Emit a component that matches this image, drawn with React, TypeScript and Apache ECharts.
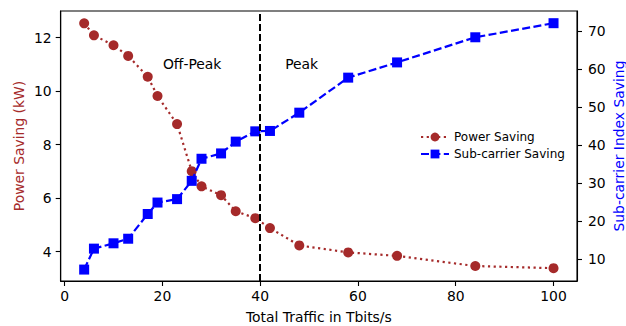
import React, { useEffect, useRef } from "react";
import * as echarts from "echarts";

const traffic = [4, 6, 10, 13, 17, 19, 23, 26, 28, 32, 35, 39, 42, 48, 58, 68, 84, 100];
const powerSaving = [12.54, 12.09, 11.72, 11.32, 10.54, 9.82, 8.77, 7.01, 6.44, 6.11, 5.51, 5.25, 4.88, 4.23, 3.97, 3.84, 3.46, 3.38];
const subcarrierSaving = [7.3, 12.8, 14.2, 15.4, 21.9, 24.9, 25.8, 30.6, 36.4, 37.8, 40.9, 43.6, 43.7, 48.5, 57.7, 61.7, 68.3, 72.0];
const xTicks = [0, 20, 40, 60, 80, 100];
const leftTicks = [4, 6, 8, 10, 12];
const rightTicks = [10, 20, 30, 40, 50, 60, 70];
const peakBoundary = 40;
const annotations = [
  { name: "Off-Peak", x: 20, y: 11.03 },
  { name: "Peak", x: 45, y: 11.03 },
];

const FONT = "DejaVu Sans";
const BROWN = "#a52a2a";
const BLUE = "#0000ff";

export default function App() {
  const ref = useRef<HTMLDivElement>(null);
  useEffect(() => {
    if (!ref.current) return;
    const chart = echarts.init(ref.current, null, { renderer: "svg" });
    const axisCommon = {
      axisLine: { show: true, onZero: false, lineStyle: { color: "#000", width: 1.1 } },
      axisTick: { show: true, inside: false, length: 5, lineStyle: { color: "#000", width: 1.1 } },
      splitLine: { show: false },
      nameMoveOverlap: false,
    };
    chart.setOption({
      animation: false,
      textStyle: { fontFamily: FONT },
      grid: {
        left: 60.7,
        right: 49,
        top: 11,
        bottom: 45,
        show: true,
        borderColor: "#000",
        borderWidth: 1.1,
        outerBoundsMode: "none",
        containLabel: false,
      },
      legend: {
        left: 415,
        top: 126,
        orient: "vertical",
        itemWidth: 28,
        itemHeight: 11,
        itemGap: 5,
        textStyle: { fontFamily: FONT, fontSize: 12, color: "#000" },
        data: ["Power Saving", "Sub-carrier Saving"],
      },
      xAxis: {
        type: "value",
        min: -0.8,
        max: 104.8,
        name: "Total Traffic in Tbits/s",
        nameLocation: "middle",
        nameGap: 29,
        nameTextStyle: { fontFamily: FONT, fontSize: 13.9, color: "#000" },
        ...axisCommon,
        axisTick: { ...axisCommon.axisTick, customValues: xTicks },
        axisLabel: { customValues: xTicks, fontFamily: FONT, fontSize: 13.9, color: "#000", margin: 8 },
      },
      yAxis: [
        {
          type: "value",
          position: "left",
          min: 2.9,
          max: 13.0,
          name: "Power Saving (kW)",
          nameLocation: "middle",
          nameGap: 35,
          nameRotate: 90,
          nameTextStyle: { fontFamily: FONT, fontSize: 13.9, color: BROWN },
          ...axisCommon,
          axisTick: { ...axisCommon.axisTick, customValues: leftTicks },
          axisLabel: { customValues: leftTicks, fontFamily: FONT, fontSize: 13.9, color: "#000", margin: 9 },
        },
        {
          type: "value",
          position: "right",
          min: 4.3,
          max: 75.2,
          name: "Sub-carrier Index Saving",
          nameLocation: "middle",
          nameGap: 35,
          nameRotate: 90,
          nameTextStyle: { fontFamily: FONT, fontSize: 13.9, color: BLUE },
          ...axisCommon,
          axisTick: { ...axisCommon.axisTick, customValues: rightTicks },
          axisLabel: { customValues: rightTicks, fontFamily: FONT, fontSize: 13.9, color: "#000", margin: 11 },
        },
      ],
      series: [
        {
          name: "Power Saving",
          type: "line",
          yAxisIndex: 0,
          data: traffic.map((x, i) => [x, powerSaving[i]]),
          symbol: "circle",
          symbolSize: 10,
          itemStyle: { color: BROWN },
          lineStyle: { color: BROWN, width: 2.2, type: [2.2, 3.5], cap: "butt" },
          z: 3,
          markLine: {
            silent: true,
            symbol: "none",
            label: { show: false },
            lineStyle: { color: "#000", width: 2, type: [7, 3] },
            data: [{ xAxis: peakBoundary }],
          },
        },
        {
          name: "Sub-carrier Saving",
          type: "line",
          yAxisIndex: 1,
          data: traffic.map((x, i) => [x, subcarrierSaving[i]]),
          symbol: "rect",
          symbolSize: 10,
          itemStyle: { color: BLUE },
          lineStyle: { color: BLUE, width: 2.2, type: [8, 3.4] },
          z: 4,
        },
        {
          name: "annotations",
          type: "scatter",
          yAxisIndex: 0,
          symbolSize: 1,
          itemStyle: { opacity: 0 },
          silent: true,
          data: annotations.map((a) => ({ name: a.name, value: [a.x, a.y] })),
          label: {
            show: true,
            position: "right",
            distance: 0,
            opacity: 1,
            formatter: (p: any) => p.name,
            fontFamily: FONT,
            fontSize: 13.9,
            color: "#000",
          },
          z: 5,
        },
      ],
    });
    return () => chart.dispose();
  }, []);
  return (
    <div
      ref={ref}
      style={{ position: "absolute", left: 0, top: 0, width: 626, height: 326, background: "#fff" }}
    />
  );
}
